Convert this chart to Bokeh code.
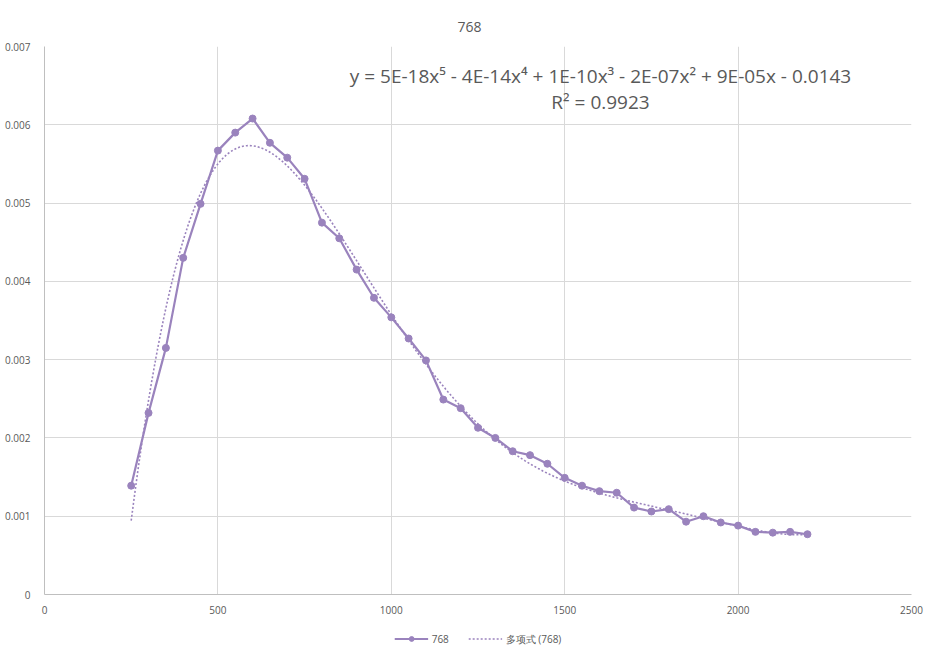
import numpy as np
from bokeh.plotting import figure
from bokeh.layouts import column
from bokeh.models import Legend, LegendItem, Label, FixedTicker, CustomJSTickFormatter
from bokeh.embed import file_html
from bokeh.resources import INLINE

# ---- data ----
wavelength = [250, 300, 350, 400, 450, 500, 550, 600, 650, 700, 750, 800, 850, 900, 950,
              1000, 1050, 1100, 1150, 1200, 1250, 1300, 1350, 1400, 1450, 1500, 1550, 1600,
              1650, 1700, 1750, 1800, 1850, 1900, 1950, 2000, 2050, 2100, 2150, 2200]
values_768 = [0.00139, 0.00232, 0.00315, 0.00430, 0.00499, 0.00567, 0.00590, 0.00608,
              0.00577, 0.00558, 0.00531, 0.00475, 0.00455, 0.00415, 0.00379, 0.00354,
              0.00327, 0.00299, 0.00249, 0.00238, 0.00213, 0.00200, 0.00183, 0.00178,
              0.00167, 0.00149, 0.00139, 0.00132, 0.00130, 0.00111, 0.00106, 0.00109,
              0.00093, 0.00100, 0.00092, 0.00088, 0.00080, 0.00079, 0.00080, 0.00077]
x_ticks = [0, 500, 1000, 1500, 2000, 2500]
y_ticks = [0, 0.001, 0.002, 0.003, 0.004, 0.005, 0.006, 0.007]
title_text = "768"
series_name = "768"
trend_name = "多项式 (768)"
equation_text = "y = 5E-18x\u2075 - 4E-14x\u2074 + 1E-10x\u00b3 - 2E-07x\u00b2 + 9E-05x - 0.0143"
r2_text = "R\u00b2 = 0.9923"

# polynomial (order 5) trendline fitted to the series
xs = np.array(wavelength, dtype=float)
ys = np.array(values_768, dtype=float)
coef = np.polyfit(xs / 1000.0, ys, 5)
tx = np.linspace(xs.min(), xs.max(), 300)
ty = np.polyval(coef, tx / 1000.0)

COLOR = "#9a83bd"
TXT = "#595959"
FONT = "Open Sans"

p = figure(width=940, height=620, output_backend="svg", toolbar_location=None,
           x_range=(0, 2500), y_range=(0, 0.007),
           min_border_left=44, min_border_right=29, min_border_top=46, min_border_bottom=26)
p.outline_line_color = None
p.title.text = title_text
p.title.align = "left"
p.title.offset = 413
p.title.vertical_align = "top"
p.title.standoff = 26
p.title.text_font = FONT
p.title.text_font_size = "14px"
p.title.text_font_style = "normal"
p.title.text_color = TXT

p.xaxis.ticker = FixedTicker(ticks=x_ticks)
p.yaxis.ticker = FixedTicker(ticks=y_ticks)
p.yaxis.formatter = CustomJSTickFormatter(code="return tick == 0 ? '0' : tick.toFixed(3);")
for ax in (p.xaxis[0], p.yaxis[0]):
    ax.axis_line_color = "#bfbfbf"
    ax.major_tick_line_color = None
    ax.minor_tick_line_color = None
    ax.major_label_text_font = FONT
    ax.major_label_text_font_size = "10px"
    ax.major_label_text_color = TXT
p.xaxis.major_label_standoff = 5
p.yaxis.major_label_standoff = 8
p.xgrid.ticker = FixedTicker(ticks=x_ticks)
p.ygrid.ticker = FixedTicker(ticks=y_ticks)
p.grid.grid_line_color = "#d9d9d9"

r_line = p.line(wavelength, values_768, line_color=COLOR, line_width=2.2)
r_pts = p.scatter(wavelength, values_768, size=7, fill_color=COLOR, line_color=COLOR)
r_trend = p.line(tx, ty, line_color=COLOR, line_width=1.6, line_dash="2 2")

# trendline equation
p.add_layout(Label(x=556, y=519, x_units="screen", y_units="screen", text=equation_text,
                   text_align="center", text_baseline="middle", text_font=FONT,
                   text_font_size="19px", text_color=TXT))
p.add_layout(Label(x=556, y=493, x_units="screen", y_units="screen", text=r2_text,
                   text_align="center", text_baseline="middle", text_font=FONT,
                   text_font_size="19px", text_color=TXT))

# legend strip below the chart (proxy glyphs lie outside its visible range)
lg = figure(width=940, height=37, output_backend="svg", toolbar_location=None,
            x_range=(0, 1), y_range=(0, 1), min_border=0)
lg.axis.visible = False
lg.grid.visible = False
lg.outline_line_color = None
proxy = [5, 6]
l1 = lg.line(proxy, proxy, line_color=COLOR, line_width=2.2)
l2 = lg.scatter(proxy, proxy, size=7, fill_color=COLOR, line_color=COLOR)
l3 = lg.line(proxy, proxy, line_color=COLOR, line_width=1.6, line_dash="2 2")
legend = Legend(items=[LegendItem(label=series_name, renderers=[l1, l2]),
                       LegendItem(label=trend_name, renderers=[l3])],
                orientation="horizontal", location="center",
                label_text_font=FONT, label_text_font_size="10px", label_text_color=TXT,
                glyph_width=34, glyph_height=12, spacing=16, padding=2, margin=0,
                background_fill_alpha=0, border_line_color=None, label_standoff=4)
lg.add_layout(legend, "center")

layout = column(p, lg, spacing=0)
open("out.html", "w").write(file_html(layout, INLINE))
